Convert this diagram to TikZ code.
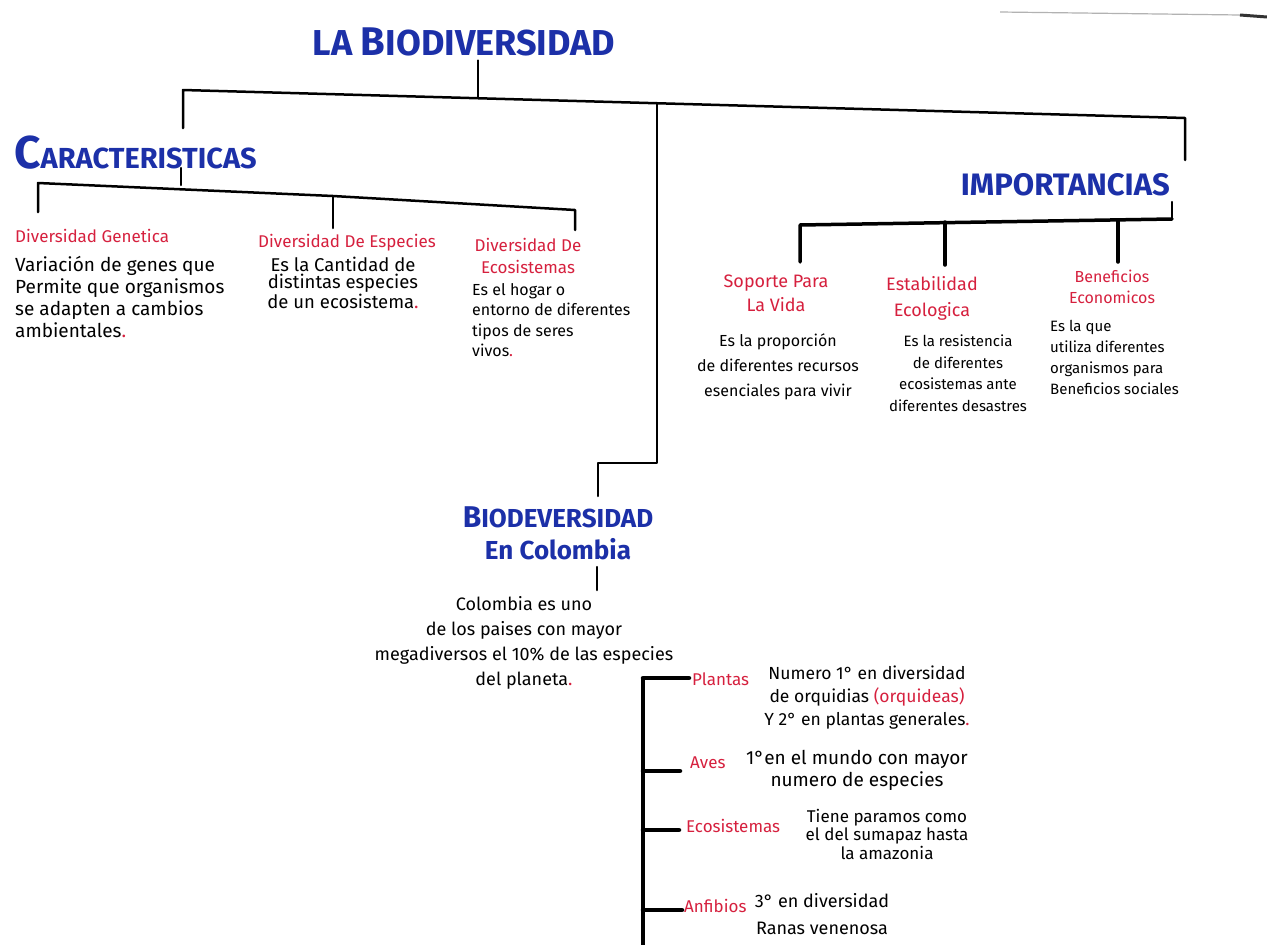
\documentclass[tikz,border=0pt]{standalone}
\usepackage{fontspec}
\setmainfont{Fira Sans}
\definecolor{ink}{RGB}{28,48,168}
\definecolor{pen}{RGB}{214,32,62}
\tikzset{
  title/.style={text=ink, inner sep=0pt, font=\fontsize{36}{40}\selectfont\bfseries},
  head/.style={text=ink, inner sep=0pt, font=\fontsize{29}{33}\selectfont\bfseries},
  sub/.style={text=pen, inner sep=0pt, align=center, font=\fontsize{17}{22}\selectfont},
  body/.style={text=black, inner sep=0pt, align=left, font=\fontsize{17}{22}\selectfont},
  bodyc/.style={body, align=center},
  link/.style={line width=2.5pt, line cap=round, line join=round},
  thin link/.style={line width=1.8pt, line cap=round},
  heavy link/.style={line width=4.5pt, line cap=round},
}
\newcommand{\rdot}{\textcolor{pen}{.}}
\begin{document}
\begin{tikzpicture}[x=1pt,y=-1pt]
\useasboundingbox[fill=white] (0,0) rectangle (1267,945);
% paper edge at the top right
\draw[gray!60, line width=1.2pt] (1000,12) -- (1240,15);
\draw[black!80, line width=3pt] (1240,15) -- (1267,17);

% ---------- headings ----------
\node[title] (title) at (464,42) {LA {\fontsize{40}{40}\selectfont B}IODIVERSIDAD};
\node[head, anchor=west] (car) at (14,153) {{\fontsize{46}{46}\selectfont C}ARACTERISTICAS};
\node[head, anchor=east, font=\fontsize{31}{33}\selectfont\bfseries] (imp) at (1170,185) {IMPORTANCIAS};
\node[head, align=center, font=\fontsize{26}{30}\selectfont\bfseries] (col) at (558,533) {{\fontsize{30}{30}\selectfont B}IODEVERSIDAD\\[2pt]En Colombia};

% ---------- main tree ----------
\coordinate (barL) at (183,90);
\coordinate (barR) at (1185,118);
\coordinate (barT) at (478,98);
\coordinate (barM) at (657,103);
\coordinate (carTop) at (183,128);
\coordinate (impTop) at (1185,160);
\coordinate (mid1) at (657,463);
\coordinate (mid2) at (598,463);
\coordinate (colTop) at (598,496);
\draw[thin link] (title.south -| barT) ++(0,4) -- (barT);
\draw[link] (carTop) -- (barL) -- (barR) -- (impTop);
\draw[link] (barM) -- (mid1) -- (mid2) -- (colTop);

% ---------- caracteristicas ----------
\node[sub, anchor=west] (dg) at (15,236) {Diversidad Genetica};
\node[sub] (de) at (347,243) {Diversidad De Especies};
\node[sub] (dc) at (528,256) {Diversidad De\\Ecosistemas};
\coordinate (cA) at (181,168);
\coordinate (cB) at (181,185);
\coordinate (cL) at (38,183);
\coordinate (cM) at (333,196);
\coordinate (cR) at (575,210);
\draw[link] (cA) -- (cB);
\draw[link] (38,212) -- (cL) -- (cM) -- (cR) -- (575,230);
\draw[link] (cM) -- (333,228);

\node[body, anchor=north west, font=\fontsize{19}{22}\selectfont] (b1) at (15,256) {Variación de genes que\\Permite que organismos\\se adapten a cambios\\ambientales\rdot};
\node[bodyc, anchor=north, font=\fontsize{18.5}{17}\selectfont] (b2) at (343,257) {Es la Cantidad de\\distintas especies\\de un ecosistema\rdot};
\node[body, anchor=north west, font=\fontsize{16}{20.5}\selectfont] (b3) at (472,283) {Es el hogar o\\entorno de diferentes\\tipos de seres\\vivos\rdot};

% ---------- importancias ----------
\coordinate (iA) at (1172,202);
\coordinate (iR) at (1172,219);
\coordinate (iL) at (800,225);
\coordinate (iM) at (945,222);
\coordinate (iN) at (1118,220);
\draw[link] (iA) -- (iR);
\draw[line width=3.5pt, line cap=round, line join=round] (800,262) -- (iL) -- (iR);
\draw[line width=3.5pt, line cap=round] (iM) -- (945,265);
\draw[line width=3.5pt, line cap=round] (iN) -- (1118,262);

\node[sub, font=\fontsize{18}{24}\selectfont] (s1) at (776,293) {Soporte Para\\La Vida};
\node[sub, font=\fontsize{18}{26}\selectfont] (s2) at (932,298) {Estabilidad\\Ecologica};
\node[sub, font=\fontsize{16}{21}\selectfont] (s3) at (1112,287) {Beneficios\\Economicos};

\node[bodyc, anchor=north, font=\fontsize{16}{25}\selectfont] (t1) at (778,333) {Es la proporción\\de diferentes recursos\\esenciales para vivir};
\node[bodyc, anchor=north, font=\fontsize{15}{21.5}\selectfont] (t2) at (958,335) {Es la resistencia\\de diferentes\\ecosistemas ante\\diferentes desastres};
\node[body, anchor=north west, font=\fontsize{15}{21}\selectfont] (t3) at (1050,320) {Es la que\\utiliza diferentes\\organismos para\\Beneficios sociales};

% ---------- biodiversidad en colombia ----------
\coordinate (kA) at (597,567);
\coordinate (kB) at (597,590);
\draw[link] (kA) -- (kB);
\node[bodyc, anchor=north, font=\fontsize{18}{25}\selectfont] (cb) at (524,596)
  {Colombia es uno\\de los paises con mayor\\megadiversos el 10\% de las especies\\del planeta\rdot};

\node[sub, anchor=west] (pl) at (692,679) {Plantas};
\node[sub, anchor=west] (av) at (690,763) {Aves};
\node[sub, anchor=west] (ec) at (686,826) {Ecosistemas};
\node[sub, anchor=west] (an) at (684,906) {Anfibios};
\coordinate (r0) at (643,678);
\coordinate (r1) at (643,771);
\coordinate (r2) at (643,830);
\coordinate (r3) at (643,910);
\coordinate (rEnd) at (643,950);
\draw[heavy link, line cap=butt] (rEnd) -- (r0);
\draw[heavy link] (r0) -- ([xshift=-3pt]r0 -| pl.west);
\draw[heavy link] (r1) -- ([xshift=-10pt]r1 -| av.west);
\draw[heavy link] (r2) -- ([xshift=-7pt]r2 -| ec.west);
\draw[heavy link] (r3) -- ([xshift=-2pt]r3 -| an.west);

\node[bodyc, anchor=north, font=\fontsize{17.5}{23}\selectfont] (plt) at (867,666)
  {Numero 1° en diversidad\\de orquidias \textcolor{pen}{(orquideas)}\\Y 2° en plantas generales\rdot};
\node[bodyc, anchor=north, font=\fontsize{19}{22}\selectfont] (avt) at (857,750)
  {1°en el mundo con mayor\\numero de especies};
\node[bodyc, anchor=north, font=\fontsize{17}{18.5}\selectfont] (ect) at (887,809)
  {Tiene paramos como\\el del sumapaz hasta\\la amazonia};
\node[bodyc, anchor=north, font=\fontsize{18}{27}\selectfont] (ant) at (822,893)
  {3° en diversidad\\Ranas venenosa};
\end{tikzpicture}
\end{document}
